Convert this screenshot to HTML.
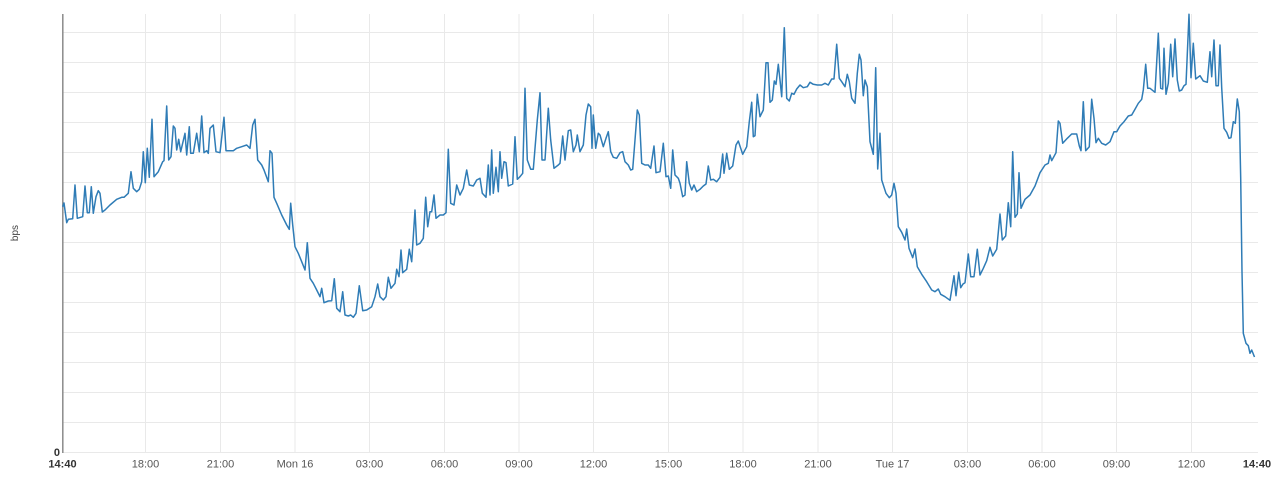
<!DOCTYPE html>
<html>
<head>
<meta charset="utf-8">
<style>
  html, body { margin: 0; padding: 0; background: #ffffff; }
  svg { display: block; }
  text { font-family: "Liberation Sans", "DejaVu Sans", sans-serif; }
</style>
</head>
<body>
<svg width="1280" height="480" viewBox="0 0 1280 480" xmlns="http://www.w3.org/2000/svg">
  <rect x="0" y="0" width="1280" height="480" fill="#ffffff"/>
  <!-- horizontal gridlines -->
  <g stroke="#e9e9e9" stroke-width="1">
    <line x1="63" y1="32.5" x2="1258" y2="32.5"/>
    <line x1="63" y1="62.5" x2="1258" y2="62.5"/>
    <line x1="63" y1="92.5" x2="1258" y2="92.5"/>
    <line x1="63" y1="122.5" x2="1258" y2="122.5"/>
    <line x1="63" y1="152.5" x2="1258" y2="152.5"/>
    <line x1="63" y1="182.5" x2="1258" y2="182.5"/>
    <line x1="63" y1="212.5" x2="1258" y2="212.5"/>
    <line x1="63" y1="242.5" x2="1258" y2="242.5"/>
    <line x1="63" y1="272.5" x2="1258" y2="272.5"/>
    <line x1="63" y1="302.5" x2="1258" y2="302.5"/>
    <line x1="63" y1="332.5" x2="1258" y2="332.5"/>
    <line x1="63" y1="362.5" x2="1258" y2="362.5"/>
    <line x1="63" y1="392.5" x2="1258" y2="392.5"/>
    <line x1="63" y1="422.5" x2="1258" y2="422.5"/>
    <line x1="63" y1="452.5" x2="1258" y2="452.5"/>
  </g>
  <!-- vertical gridlines -->
  <g stroke="#e9e9e9" stroke-width="1">
    <line x1="145.5" y1="14" x2="145.5" y2="452"/>
    <line x1="220.5" y1="14" x2="220.5" y2="452"/>
    <line x1="295" y1="14" x2="295" y2="452"/>
    <line x1="369.5" y1="14" x2="369.5" y2="452"/>
    <line x1="444.5" y1="14" x2="444.5" y2="452"/>
    <line x1="519" y1="14" x2="519" y2="452"/>
    <line x1="593.5" y1="14" x2="593.5" y2="452"/>
    <line x1="668.5" y1="14" x2="668.5" y2="452"/>
    <line x1="743" y1="14" x2="743" y2="452"/>
    <line x1="818" y1="14" x2="818" y2="452"/>
    <line x1="892.5" y1="14" x2="892.5" y2="452"/>
    <line x1="967.5" y1="14" x2="967.5" y2="452"/>
    <line x1="1042" y1="14" x2="1042" y2="452"/>
    <line x1="1116.5" y1="14" x2="1116.5" y2="452"/>
    <line x1="1191.5" y1="14" x2="1191.5" y2="452"/>
  </g>
  <!-- left axis -->
  <line x1="62.8" y1="14" x2="62.8" y2="453" stroke="#8a8a8a" stroke-width="1.5"/>

  <!-- series -->
  <polyline fill="none" stroke="#2f7cb6" stroke-width="1.5" stroke-linejoin="round" points="
62.7,206.7 64,203 66.7,222.7 68.3,219.3 72.7,218.7 75,185 77.3,218.3 82.7,216.7 85,186 87.3,212.7 89.3,212.7 91.3,186.7 93.3,213.3 96,196.7 98.3,190.7 100,193.3 102.3,212 105,210 110,205 116.7,199.3 121.7,197.3 124,197.3 128.3,193.3 131,171.7 133.3,188.3 136.7,191.7 139.3,189.3 141.7,181.7 143.3,151.7 145.3,182.7 147.3,148.3 149.3,177.3 152,119.3 154,176.7 158.3,171.7 162.7,161.7 164,160.7 166.7,106 168.7,160 171,156.7 173.3,126 175,128.3 176.7,150 178.7,139.3 180.7,151.7 185,133.3 186.7,155 189.3,126.7 190.7,153.3 193.3,153.3 196.7,133.3 199.3,151.7 201.7,116 204,152.7 206.7,150.7 208.3,153.3 210,128.3 213.3,125 216,151.7 220,152.7 224,117.3 226,150.7 233.3,150.7 236.7,148.3 241.7,146.7 246.7,145 250,148.3 252.7,125 255,119.3 257.7,160 261.7,165 264,170 268.3,181.7 270,150.7 272,153.3 274,197.3 276.7,203.3 281.7,215 286.7,225 289.3,229.3 290.7,203.3 292.7,225 295,246.7 298.3,253.3 301.7,261.7 305,270 307.3,242.7 310,278.3 313.3,283.3 316.7,290 320,296.7 321.7,288.3 324,302.7 328.3,301 331.7,300.7 334.3,278.7 336.7,308.3 340,311.7 342.7,291.7 345,315 348.3,316 350.7,315 353.3,317.3 356,313.3 359.3,285.7 362.7,310.7 366.7,310 371.7,306.7 375,296.7 377.7,284 380,296.7 383.3,300 386,296.7 388.3,277.3 391,288.3 395,283.3 396.7,269.3 399,276.7 401,250 402.7,272.7 406.7,269.3 409.3,249.3 411.7,261.7 415,210 416.7,245 420,243.3 423.3,238.3 425.7,197.3 427.7,226.7 430,211.7 431.7,211.7 434,195 436,218.3 440,215 443.3,215 446,212.7 448.3,149.3 450.7,203.3 454,205 456.7,185 460,195 463.3,188.3 466.7,170 469.3,185 473.3,186 476.7,180 480,178.3 482.3,193.3 486,197.3 488.3,165 490,195 491.7,150 493.3,193.3 496,167.3 498.3,191.7 500,151.7 501.7,178.3 504,161.7 506,162.7 508.3,186 512.7,184 515,136.7 517.3,179.3 520,176.7 522.7,173.3 525,88.3 527.3,160 530.7,169.3 533.3,169.3 537.3,120 540,92.7 542,160 545,160 548.3,108.3 550.7,140 554,168.3 558.3,165 560,163.3 562.7,136 565,160 568.3,130.7 570.7,130 573.3,151.7 576,145 577.3,135 580,151.7 583.3,145 586,115 588.3,104 590.7,106.7 592,148.3 593.3,115 595.7,148.3 598.3,133.3 600,135 603.3,146.7 606,138.3 608.3,131.7 610.7,151.7 613.3,157.3 616.7,158.3 620,152.7 622.7,151.7 625,161.7 628.3,165 630.7,170 632.7,169.3 635,140 637.3,110 639.3,115 641.7,163.3 645,165 648.3,165 650.7,168.3 654,146 656,172.7 660,171.7 663.3,143.3 666,176.7 668.3,176 670.7,188.3 672.7,150 675,175 678.3,178.3 680,183.3 682.7,196.7 685,195 686.7,161.7 689.3,183.3 691.7,190 694,185 696.7,191.7 700,189.3 703.3,186 706,184 708.3,166 710.7,180 713.3,179.3 716.7,181.7 720,177.3 722.7,154 724,173.3 726.7,153.3 729.3,169.3 732.7,166 736,145 738.3,141 742.7,154.3 746.7,146.7 749.3,121.7 751.7,102.3 753.3,136.7 755,135.7 757.3,94.3 760,116.7 763.3,110 766,62.7 768,62.7 770,102.3 772.3,100 774.3,81 776,84.3 778.3,64.3 780,80 781.7,96.7 784.3,27.7 786.7,98.3 789.3,101 791.7,93.3 794,94.3 796.7,89 800,85 803.3,87.7 807.3,86.7 810,82.3 813.3,84.3 817.3,85 821.7,85 825,83.3 828.3,85 831.7,79 834,79 836.7,44.3 839.3,78.3 841.7,81.7 845,86.7 847.3,74.3 849.3,81.7 851.7,98.3 855,103.3 857.3,73.3 859.3,54.3 861,60 863.3,95.7 865,80 867.3,86.7 870,141.7 873.3,154.3 875.7,67.7 877.7,169 880,133.3 881.7,180 886,193.3 889.3,197.7 891.7,195 894,183.3 896,193.3 898.3,226.7 901.7,232.3 905,240 906.7,229 909,248.3 912.7,257.7 915,249 917.3,266.7 921.7,274.3 926.7,281.7 931.7,290 935,291.7 938.3,289 940.7,294.3 945,296.7 950,300.3 954,275.7 956,295.7 958.7,272.3 960.7,287.7 963,284 965,282.7 968.3,254 970.7,276.7 974,276.7 977.3,249.3 980,275 983.3,268.3 986.7,260.7 990,247.3 992.7,256 996.7,249.3 1000,214 1002.3,240 1005.7,236 1008.3,202.7 1010.7,226.7 1012.7,151.7 1015,217.3 1017.3,214 1019,172.7 1021,208.3 1025,199.3 1030,195 1035,186 1040,172.7 1045,165 1048.3,163.3 1050,155 1051.7,160.7 1056,152.7 1058.3,121 1060,123.3 1062.7,143.3 1067.3,138.3 1071.7,134 1076.7,134 1079.3,146 1081,150.7 1083.3,101.7 1085.7,150.7 1089.3,146.7 1091.7,99.3 1094,118.3 1096,142.7 1098.3,138.3 1101.7,143.3 1105.7,145 1110,141.7 1114,131.7 1116.7,131.7 1120,126 1124,121.7 1128.3,116 1131.7,115 1135,109.3 1138.3,103.3 1141.7,99.3 1143.3,90 1145.7,64.3 1147.7,88.3 1150,88.3 1155,92.3 1158.3,33.3 1160.7,88.3 1162.7,89 1164,48.3 1166,94.3 1168.3,83.3 1170.7,44.3 1172.7,76.7 1175,39 1177.3,80 1179.3,91 1181.7,90 1184,85.7 1186,84.3 1189,14.3 1191,77.7 1193.3,43.3 1195.7,79 1200,75.7 1203.3,81 1207.3,82.3 1210,51.7 1211.7,76.7 1214,40 1216,85.7 1218.3,85.7 1220,45 1221.7,87.7 1224,128.3 1226.7,132.3 1229,138.3 1231,137.7 1233.3,121.7 1235.3,123.3 1237.3,99 1239.3,111.7 1240.7,178.3 1242,271.7 1243.3,333.3 1246,343.3 1248.3,345.7 1250,353.3 1251.7,350 1254.5,357
"/>

  <!-- y axis labels -->
  <text x="60" y="456" font-size="11" font-weight="bold" fill="#333" text-anchor="end">0</text>
  <text transform="translate(18,233) rotate(-90)" font-size="10" fill="#444" text-anchor="middle">bps</text>

  <!-- x axis labels -->
  <g font-size="11" fill="#555" text-anchor="middle">
    <text x="62.5" y="467.5" font-weight="bold" fill="#333">14:40</text>
    <text x="145.5" y="467.5">18:00</text>
    <text x="220.5" y="467.5">21:00</text>
    <text x="295" y="467.5">Mon 16</text>
    <text x="369.5" y="467.5">03:00</text>
    <text x="444.5" y="467.5">06:00</text>
    <text x="519" y="467.5">09:00</text>
    <text x="593.5" y="467.5">12:00</text>
    <text x="668.5" y="467.5">15:00</text>
    <text x="743" y="467.5">18:00</text>
    <text x="818" y="467.5">21:00</text>
    <text x="892.5" y="467.5">Tue 17</text>
    <text x="967.5" y="467.5">03:00</text>
    <text x="1042" y="467.5">06:00</text>
    <text x="1116.5" y="467.5">09:00</text>
    <text x="1191.5" y="467.5">12:00</text>
    <text x="1257" y="467.5" font-weight="bold" fill="#333">14:40</text>
  </g>
</svg>
</body>
</html>
